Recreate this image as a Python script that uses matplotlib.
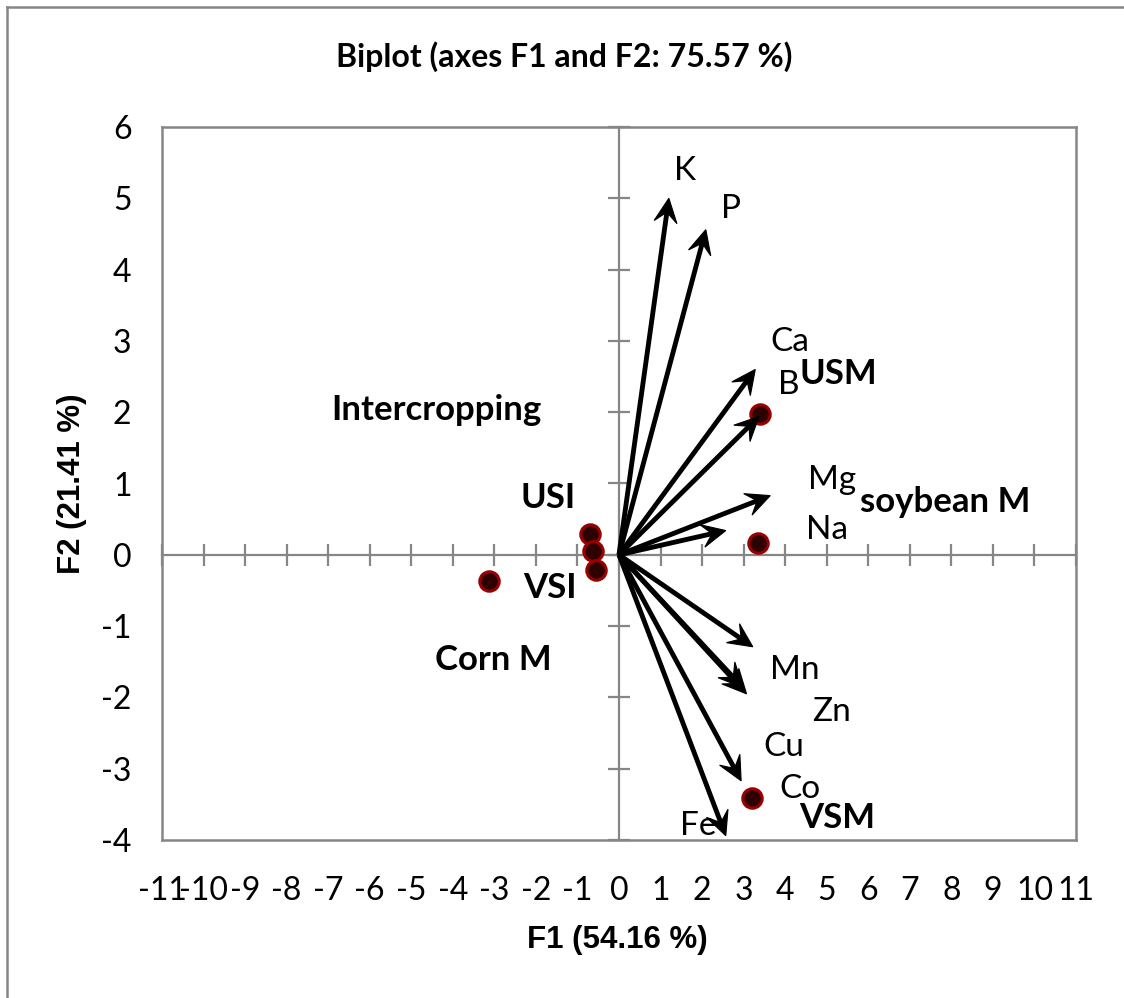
import matplotlib
matplotlib.use('Agg')
import numpy as np
import matplotlib.pyplot as plt
from matplotlib.lines import Line2D
from matplotlib.patches import Polygon
from matplotlib.transforms import IdentityTransform

plt.rcParams['axes.unicode_minus'] = False

# ---- data ----
variables = ['K', 'P', 'Ca', 'B', 'Mg', 'Na', 'Mn', 'Zn', 'Cu', 'Co', 'Fe']
var_f1 = [1.20, 2.09, 3.28, 3.37, 3.64, 2.57, 3.22, 3.07, 2.98, 2.94, 2.57]
var_f2 = [5.00, 4.56, 2.60, 1.94, 0.83, 0.34, -1.29, -1.95, -1.86, -3.17, -3.94]
var_label_f1 = [1.59, 2.69, 4.12, 4.09, 5.12, 5.00, 4.24, 5.12, 3.97, 4.36, 1.90]
var_label_f2 = [5.38, 4.85, 2.98, 2.38, 1.05, 0.35, -1.61, -2.20, -2.69, -3.29, -3.80]

obs_f1 = [3.40, 3.34, 3.20, -0.70, -0.63, -0.56, -3.12]
obs_f2 = [1.97, 0.16, -3.41, 0.29, 0.05, -0.21, -0.37]

group_labels = ['Intercropping', 'USI', 'VSI', 'Corn M', 'soybean M', 'USM', 'VSM']
group_label_f1 = [-4.39, -1.71, -1.66, -3.03, 7.84, 5.27, 5.24]
group_label_f2 = [2.03, 0.80, -0.46, -1.47, 0.74, 2.54, -3.69]

x_ticks = list(range(-11, 12))
y_ticks = list(range(-4, 7))

title = 'Biplot (axes F1 and F2: 75.57 %)'
xlabel = 'F1 (54.16 %)'
ylabel = 'F2 (21.41 %)'

# ---- styling ----
W, H = 1124, 998
GRAY = '#868686'
FONT = ['Lato', 'DejaVu Sans']
AFONT = ['Liberation Sans', 'DejaVu Sans']

fig = plt.figure(figsize=(W / 100, H / 100), dpi=100)
fig.patch.set_facecolor('white')

rect = [162 / W, 158 / H, 914 / W, 713 / H]
ax = fig.add_axes(rect)
ax.set_xlim(-11, 11)
ax.set_ylim(-4, 6)
ax.set_xticks(x_ticks)
ax.set_yticks(y_ticks)
for s in ax.spines.values():
    s.set_color(GRAY)
    s.set_linewidth(1.8)
ax.tick_params(length=0)
ax.tick_params(axis='x', pad=26)
ax.tick_params(axis='y', pad=22)
for lab in ax.get_xticklabels() + ax.get_yticklabels():
    lab.set_fontfamily(FONT)
    lab.set_fontsize(23)

# overlay axes for zero lines with cross ticks
ax2 = fig.add_axes(rect, sharex=ax, sharey=ax)
ax2.patch.set_visible(False)
ax2.spines['left'].set_position(('data', 0))
ax2.spines['bottom'].set_position(('data', 0))
ax2.spines['top'].set_visible(False)
ax2.spines['right'].set_visible(False)
for k in ('left', 'bottom'):
    ax2.spines[k].set_color(GRAY)
    ax2.spines[k].set_linewidth(1.6)
ax2.tick_params(direction='inout', length=16, width=1.6, color=GRAY,
                labelbottom=False, labelleft=False)

# observations
ax2.plot(obs_f1, obs_f2, linestyle='none', marker='o', markersize=14,
         markerfacecolor='#2e0000', markeredgecolor='#9a0000',
         markeredgewidth=2.2, zorder=4)

# variable arrows with "stealth" heads (head drawn in pixel space)
HEAD_L, HEAD_W, NOTCH = 24.0, 11.5, 14.0
tr = ax2.transData
inv = tr.inverted()
o_px = tr.transform((0.0, 0.0))
for x, y in zip(var_f1, var_f2):
    tip = tr.transform((x, y))
    d = tip - o_px
    d = d / np.hypot(*d)
    n = np.array([-d[1], d[0]])
    base = tip - d * NOTCH
    pts = [tip, tip - d * HEAD_L + n * HEAD_W, base, tip - d * HEAD_L - n * HEAD_W]
    bx, by = inv.transform(base + d * 2)
    ax2.plot([0, bx], [0, by], color='black', lw=3.5, solid_capstyle='butt',
             zorder=5)
    ax2.add_patch(Polygon(pts, closed=True, facecolor='black',
                          edgecolor='black', lw=0.8, joinstyle='miter',
                          transform=IdentityTransform(), clip_on=False,
                          zorder=5))

for name, x, y in zip(variables, var_label_f1, var_label_f2):
    ax2.text(x, y, name, fontsize=24, family=FONT, ha='center', va='center',
             zorder=6)

for name, x, y in zip(group_labels, group_label_f1, group_label_f2):
    ax2.text(x, y, name, fontsize=25, family=FONT, fontweight='bold',
             ha='center', va='center', zorder=6)

fig.text(564 / W, 1 - 57 / H, title, fontsize=23, family=FONT,
         fontweight='bold', ha='center', va='center')
fig.text(617 / W, 1 - 940 / H, xlabel, fontsize=22.5, family=AFONT,
         fontweight='bold', ha='center', va='center')
fig.text(72 / W, 1 - 484 / H, ylabel, fontsize=22.5, family=AFONT,
         fontweight='bold', ha='center', va='center', rotation=90)

# outer chart frame (left and top edges visible)
fig.add_artist(Line2D([7 / W, 7 / W], [0, 1 - 7 / H], color=GRAY, lw=1.8,
                      transform=fig.transFigure))
fig.add_artist(Line2D([7 / W, 1], [1 - 7 / H, 1 - 7 / H], color=GRAY, lw=1.8,
                      transform=fig.transFigure))

fig.savefig('out.png', dpi=100)
